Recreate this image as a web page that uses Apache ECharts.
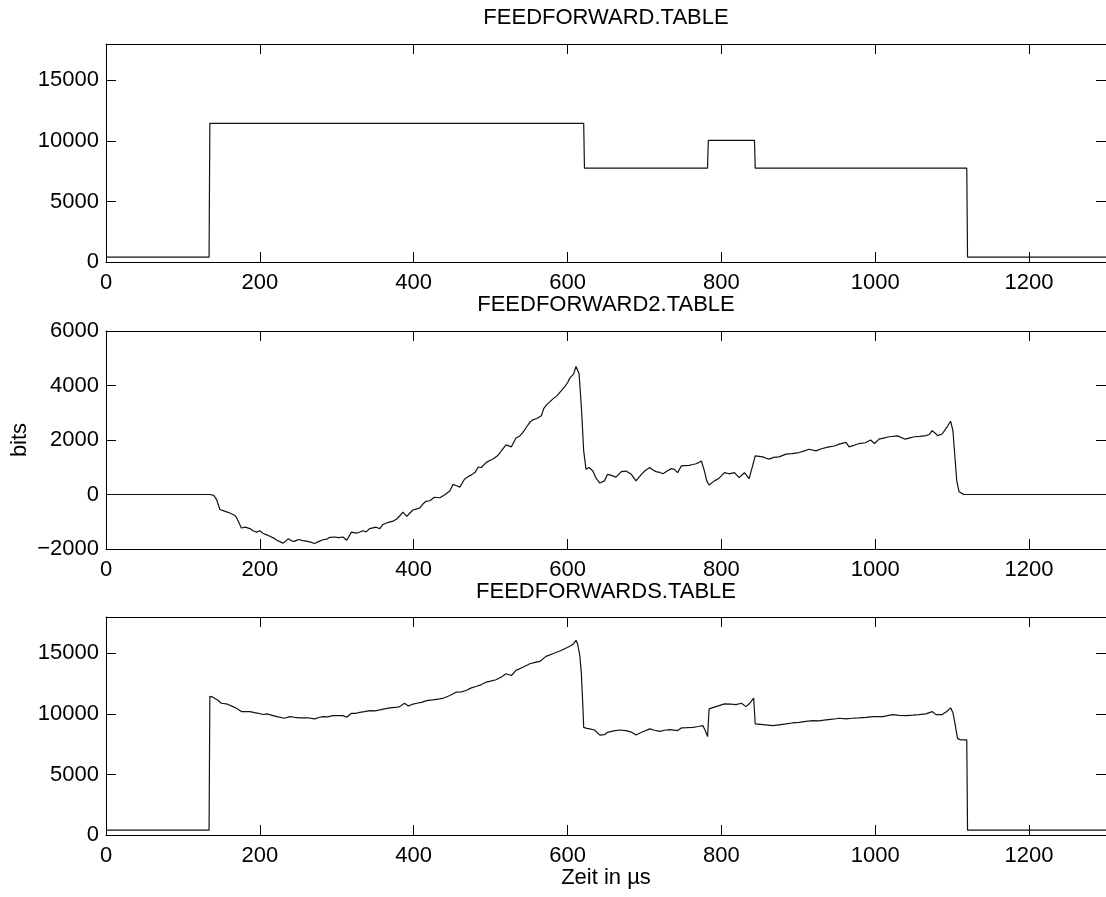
<!DOCTYPE html>
<html>
<head>
<meta charset="utf-8">
<style>
  html, body { margin: 0; padding: 0; background: #fff; }
  #chart_example { width: 1106px; height: 897px; }
</style>
<script src="https://cdn.jsdelivr.net/npm/echarts@6/dist/echarts.min.js"></script>
</head>
<body>
<div id="chart_example"></div>
<script>
// time in µs, value in bits
const ffTable = [
  [0, 400], [134, 400], [135, 11450], [621, 11450], [622, 7750], [782, 7750],
  [783, 10050], [843, 10050], [844, 7750], [1119, 7750], [1120, 400], [1300, 400]
];

const ff2Table = [
  [0, 0], [135, 0], [140, -30], [144, -200], [148, -550], [155, -620], [161, -680], [167, -760],
  [170, -860], [176, -1230], [181, -1200], [187, -1250], [191, -1330], [196, -1380], [200, -1330],
  [204, -1420], [209, -1480], [213, -1530], [218, -1600], [222, -1680], [226, -1730], [230, -1790],
  [234, -1700], [237, -1620], [241, -1700], [245, -1720], [250, -1650], [256, -1690], [262, -1720],
  [266, -1750], [271, -1800], [277, -1720], [282, -1660], [287, -1640], [291, -1570], [297, -1560],
  [303, -1580], [308, -1560], [313, -1680], [319, -1380], [326, -1420], [334, -1330], [338, -1370],
  [343, -1250], [351, -1200], [356, -1250], [360, -1100], [367, -1020], [373, -980], [378, -900],
  [382, -780], [386, -650], [391, -800], [395, -680], [399, -570], [404, -530], [408, -490],
  [412, -350], [416, -250], [421, -230], [427, -100], [434, -120], [440, -20], [447, 130],
  [451, 370], [455, 330], [460, 270], [466, 560], [470, 640], [475, 720], [480, 820], [484, 1010],
  [488, 990], [494, 1170], [499, 1250], [503, 1300], [509, 1420], [514, 1600], [520, 1820],
  [527, 1750], [533, 2070], [538, 2150], [542, 2280], [546, 2450], [551, 2650], [555, 2740],
  [560, 2790], [566, 2890], [569, 3150], [573, 3300], [577, 3400], [581, 3510], [586, 3620],
  [590, 3750], [596, 3940], [600, 4100], [603, 4270], [608, 4430], [611, 4700], [615, 4430],
  [618, 3200], [621, 1600], [624, 930], [628, 990], [633, 860], [637, 600], [642, 420], [648, 500],
  [652, 740], [657, 700], [663, 640], [670, 840], [676, 860], [683, 740], [689, 500], [696, 740],
  [701, 880], [707, 990], [711, 900], [715, 840], [720, 810], [724, 760], [730, 870], [735, 950],
  [739, 920], [743, 800], [748, 1050], [753, 1060], [758, 1070], [763, 1100], [767, 1130],
  [771, 1180], [774, 1230], [778, 860], [781, 500], [784, 350], [791, 500], [797, 600], [804, 800],
  [810, 760], [817, 800], [823, 620], [830, 800], [836, 580], [840, 990], [844, 1420], [849, 1400],
  [854, 1380], [858, 1330], [862, 1300], [868, 1360], [875, 1380], [884, 1480], [892, 1500],
  [901, 1540], [908, 1600], [914, 1660], [923, 1600], [930, 1680], [940, 1750], [947, 1780],
  [953, 1850], [962, 1910], [966, 1750], [972, 1800], [979, 1870], [987, 1900], [994, 2000],
  [999, 1870], [1005, 2030], [1012, 2080], [1018, 2120], [1029, 2150], [1039, 2030], [1045, 2080],
  [1051, 2120], [1058, 2130], [1066, 2160], [1070, 2200], [1074, 2340], [1078, 2250], [1081, 2160],
  [1087, 2220], [1093, 2460], [1098, 2690], [1101, 2340], [1104, 1230], [1106, 500], [1109, 100],
  [1115, 5], [1300, 0]
];

const ffsTable = [
  [0, 400], [134, 400], [135, 11450], [139, 11380], [145, 11150], [150, 10880], [158, 10800],
  [165, 10600], [170, 10450], [176, 10190], [187, 10190], [193, 10100], [198, 10050], [204, 9950],
  [209, 10000], [215, 9900], [222, 9780], [232, 9640], [239, 9780], [245, 9720], [252, 9670],
  [262, 9680], [271, 9590], [277, 9700], [282, 9780], [288, 9760], [295, 9860], [308, 9860],
  [313, 9720], [319, 10050], [325, 10050], [330, 10130], [336, 10180], [343, 10270], [350, 10250],
  [356, 10330], [362, 10420], [369, 10500], [376, 10530], [382, 10600], [388, 10880], [393, 10660],
  [398, 10780], [404, 10880], [410, 10950], [417, 11100], [425, 11150], [434, 11240], [440, 11330],
  [447, 11520], [455, 11790], [462, 11820], [468, 11930], [475, 12150], [481, 12260], [488, 12420],
  [494, 12620], [500, 12700], [507, 12820], [514, 13050], [520, 13310], [527, 13170], [533, 13590],
  [542, 13850], [551, 14140], [558, 14250], [564, 14330], [572, 14750], [580, 14950], [590, 15190],
  [597, 15400], [603, 15580], [608, 15800], [611, 16070], [613, 15800], [616, 14800], [618, 13300],
  [620, 10500], [621, 8890], [625, 8800], [629, 8760], [635, 8670], [642, 8250], [648, 8280],
  [652, 8480], [660, 8600], [668, 8670], [676, 8620], [683, 8500], [689, 8260], [697, 8500],
  [707, 8760], [713, 8650], [720, 8560], [726, 8650], [733, 8700], [743, 8620], [748, 8840],
  [755, 8860], [763, 8890], [770, 8960], [776, 9030], [779, 8620], [782, 8120], [784, 10410],
  [793, 10600], [804, 10830], [812, 10800], [819, 10770], [826, 10880], [832, 10600], [837, 10880],
  [842, 11300], [844, 9170], [854, 9110], [867, 9030], [875, 9100], [884, 9170], [892, 9250],
  [901, 9300], [910, 9380], [919, 9450], [927, 9420], [936, 9500], [945, 9560], [953, 9640],
  [962, 9590], [970, 9640], [979, 9670], [988, 9720], [997, 9780], [1010, 9780], [1016, 9850],
  [1023, 9940], [1031, 9880], [1040, 9860], [1049, 9900], [1057, 9940], [1066, 10000],
  [1074, 10190], [1079, 9940], [1087, 9940], [1093, 10200], [1098, 10500], [1101, 10100],
  [1103, 9450], [1107, 7980], [1111, 7850], [1119, 7850], [1120, 400], [1300, 400]
];

const panelTitles = ["FEEDFORWARD.TABLE", "FEEDFORWARD2.TABLE", "FEEDFORWARDS.TABLE"];
const xRange = [0, 1300, 200];
const yRanges = [[0, 18000, 5000], [-2000, 6000, 2000], [0, 18000, 5000]];

const font = "'Liberation Sans', Arial, Helvetica, sans-serif";
const gridTops = [44, 331, 617];
const gridHeight = 218;

function xAxisFor(i, pos) {
  return {
    type: "value",
    gridIndex: i,
    position: pos,
    min: xRange[0],
    max: xRange[1],
    interval: xRange[2],
    axisLine: { show: true, onZero: false, lineStyle: { color: "#000", width: 1 } },
    axisTick: { show: true, inside: true, length: 10, lineStyle: { color: "#000" } },
    axisLabel: {
      show: pos === "bottom",
      showMaxLabel: false,
      color: "#000",
      fontSize: 22,
      fontFamily: font,
      margin: 10,
      formatter: v => String(v)
    },
    splitLine: { show: false }
  };
}

function yAxisFor(i, pos) {
  let r = yRanges[i];
  return {
    type: "value",
    gridIndex: i,
    position: pos,
    min: r[0],
    max: r[1],
    interval: r[2],
    axisLine: { show: true, onZero: false, lineStyle: { color: "#000", width: 1 } },
    axisTick: { show: true, inside: true, length: 10, lineStyle: { color: "#000" } },
    axisLabel: {
      show: pos === "left",
      showMaxLabel: r[1] % r[2] === 0,
      color: "#000",
      fontSize: 22,
      fontFamily: font,
      margin: 7,
      formatter: v => String(v).replace("-", "\u2212")
    },
    splitLine: { show: false }
  };
}

let grids = [], xAxes = [], yAxes = [], titles = [];
gridTops.forEach((top, i) => {
  grids.push({ left: 106, top: top, width: 1001, height: gridHeight });
  xAxes.push(xAxisFor(i, "bottom"), xAxisFor(i, "top"));
  yAxes.push(yAxisFor(i, "left"), yAxisFor(i, "right"));
  titles.push({
    text: panelTitles[i],
    left: 606,
    top: [7, 294, 581][i],
    textAlign: "center",
    padding: 0,
    textStyle: { color: "#000", fontSize: 22, fontWeight: "normal", fontFamily: font }
  });
});

function lineSeries(i, data) {
  return {
    type: "line",
    xAxisIndex: i * 2,
    yAxisIndex: i * 2,
    data: data,
    showSymbol: false,
    smooth: false,
    animation: false,
    lineStyle: { color: "#111", width: 1.2 }
  };
}

let option = {
  backgroundColor: "#fff",
  animation: false,
  title: titles,
  grid: grids,
  xAxis: xAxes,
  yAxis: yAxes,
  series: [lineSeries(0, ffTable), lineSeries(1, ff2Table), lineSeries(2, ffsTable)],
  graphic: [
    {
      type: "text",
      x: 20,
      y: 440,
      rotation: Math.PI / 2,
      style: { text: "bits", fontSize: 22, fontFamily: font, fill: "#000", align: "center", verticalAlign: "middle" }
    },
    {
      type: "text",
      x: 606,
      y: 878,
      style: { text: "Zeit in \u00b5s", fontSize: 22, fontFamily: font, fill: "#000", align: "center", verticalAlign: "middle" }
    }
  ]
};

let myChart = echarts.init(document.getElementById("chart_example"));
myChart.setOption(option);
window.addEventListener("resize", function() {
  myChart.resize();
});
</script>
</body>
</html>
